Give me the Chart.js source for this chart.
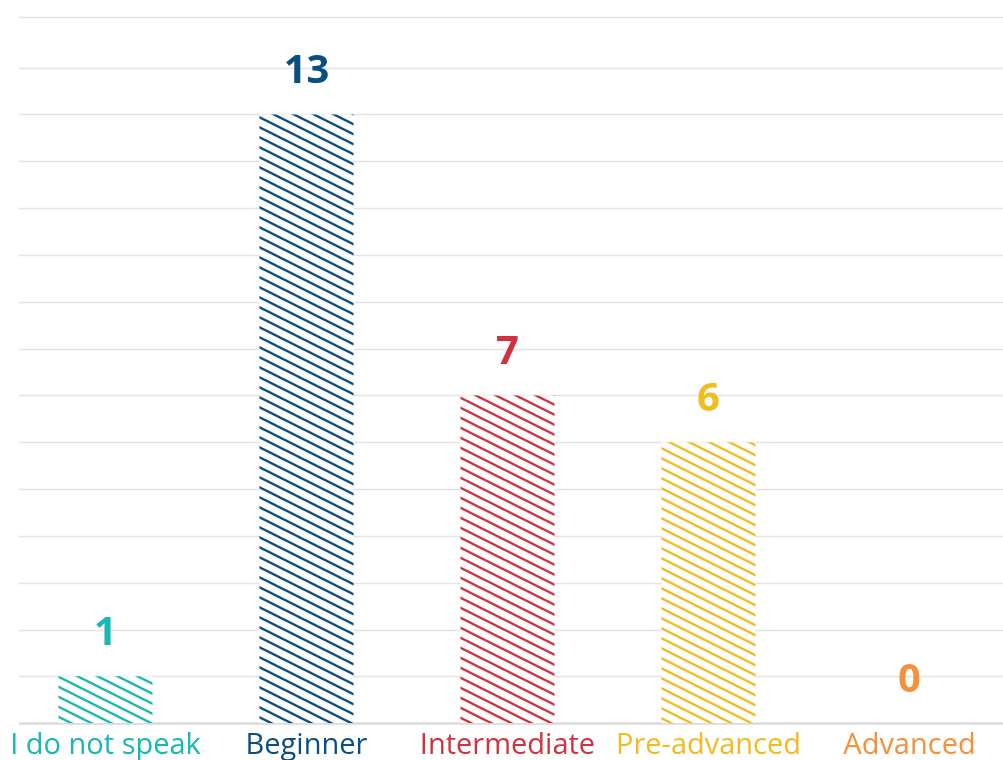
<!DOCTYPE html>
<html>
<head>
<meta charset="utf-8">
<script src="https://cdn.jsdelivr.net/npm/chart.js"></script>
<style>
  html, body { margin: 0; padding: 0; background: #fff; overflow: hidden; }
  #wrap { position: absolute; left: 5px; top: 0; width: 1005px; height: 768px; }
</style>
</head>
<body>
<div id="wrap"><canvas id="chart"></canvas></div>
<script>
const categories = ['I do not speak', 'Beginner', 'Intermediate', 'Pre-advanced', 'Advanced'];
const values = [1, 13, 7, 6, 0];
const colors = ['#17b9b2', '#0b4e80', '#d0333f', '#f1bc1f', '#f6903a'];
const yMax = 15.08;
// one line per unit, plus the top edge of the plot
const yTicks = [0, 1, 2, 3, 4, 5, 6, 7, 8, 9, 10, 11, 12, 13, 14, yMax];

// diagonal hatch on white, lines going down to the right
function hatch(color) {
    const tile = document.createElement('canvas');
    tile.width = 20;
    tile.height = 10;
    const c = tile.getContext('2d');
    c.fillStyle = '#fff';
    c.fillRect(0, 0, 20, 10);
    c.strokeStyle = color;
    c.lineWidth = 2.4;
    for (let k = -2; k <= 1; k++) {
        c.beginPath();
        c.moveTo(-10, -5 + k * 10);
        c.lineTo(30, 15 + k * 10);
        c.stroke();
    }
    return c.createPattern(tile, 'repeat');
}

// horizontal grid, starts a bit right of the plot edge like the original
const gridPlugin = {
    id: 'grid',
    beforeDatasetsDraw(chart) {
        const ctx = chart.ctx;
        const y = chart.scales.y;
        const left = chart.chartArea.left + 14;
        const right = chart.chartArea.right;
        ctx.save();
        yTicks.forEach(v => {
            const py = Math.round(y.getPixelForValue(v)) + 0.5;
            ctx.beginPath();
            ctx.strokeStyle = v === 0 ? '#dadada' : '#e4e4e4';
            ctx.lineWidth = v === 0 ? 2.5 : 1.5;
            ctx.moveTo(left, py);
            ctx.lineTo(right, py);
            ctx.stroke();
        });
        ctx.restore();
    }
};

const valueLabels = {
    id: 'valueLabels',
    afterDatasetsDraw(chart) {
        const ctx = chart.ctx;
        const meta = chart.getDatasetMeta(0);
        ctx.save();
        ctx.font = 'bold 40px "Open Sans"';
        ctx.textAlign = 'center';
        ctx.textBaseline = 'alphabetic';
        meta.data.forEach((bar, i) => {
            ctx.fillStyle = colors[i];
            ctx.fillText(String(values[i]), bar.x, bar.y - 31);
        });
        ctx.restore();
    }
};

const canvas = document.getElementById('chart');
new Chart(canvas.getContext('2d'), {
    type: 'bar',
    data: {
        labels: categories,
        datasets: [{
            data: values,
            backgroundColor: colors.map(hatch),
            borderWidth: 0,
            barPercentage: 0.468,
            categoryPercentage: 1
        }]
    },
    options: {
        responsive: true,
        maintainAspectRatio: false,
        animation: false,
        layout: { padding: { top: 17, left: 0, right: 0, bottom: 0 } },
        plugins: {
            legend: { display: false },
            tooltip: { enabled: false }
        },
        scales: {
            x: {
                grid: { display: false, drawTicks: false },
                border: { display: false },
                ticks: {
                    padding: 5,
                    maxRotation: 0,
                    autoSkip: false,
                    font: { family: 'Open Sans', size: 29 },
                    color: ctx => colors[ctx.index]
                }
            },
            y: {
                display: false,
                min: 0,
                max: yMax,
                ticks: { stepSize: 1 }
            }
        }
    },
    plugins: [gridPlugin, valueLabels]
});
</script>
</body>
</html>
